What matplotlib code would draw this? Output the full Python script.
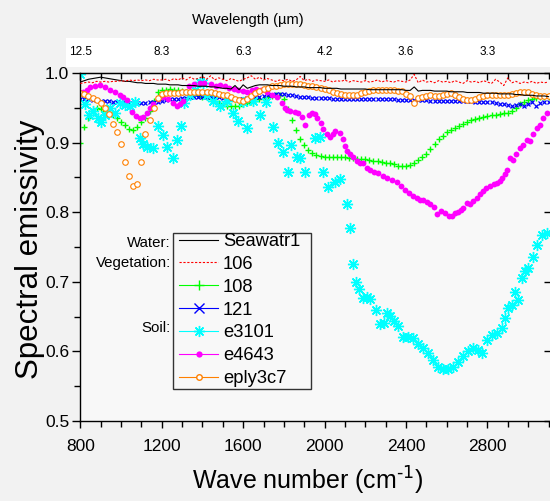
import numpy as np
import matplotlib
matplotlib.use('Agg')
import matplotlib.pyplot as plt
from matplotlib.lines import Line2D
from matplotlib.patches import Rectangle
from matplotlib.ticker import MultipleLocator

plt.rcParams['font.family'] = ['Liberation Sans', 'DejaVu Sans']
plt.rcParams['mathtext.default'] = 'regular'

# wave number grid (cm-1) for the densely sampled spectra
wn = np.arange(800, 3101, 20)

seawatr1 = [
    0.987, 0.989, 0.991, 0.992, 0.993, 0.994, 0.993, 0.992, 0.991, 0.990,
    0.989, 0.988, 0.988, 0.987, 0.986, 0.986, 0.985, 0.985, 0.985, 0.984,
    0.984, 0.984, 0.983, 0.983, 0.983, 0.982, 0.982, 0.982, 0.982, 0.981,
    0.981, 0.981, 0.980, 0.980, 0.979, 0.978, 0.978, 0.977, 0.982, 0.976,
    0.983, 0.978, 0.980, 0.982, 0.983, 0.983, 0.983, 0.982, 0.982, 0.982,
    0.981, 0.981, 0.981, 0.980, 0.980, 0.980, 0.979, 0.979, 0.979, 0.979,
    0.978, 0.978, 0.978, 0.978, 0.977, 0.977, 0.977, 0.977, 0.977, 0.977,
    0.977, 0.976, 0.976, 0.976, 0.976, 0.976, 0.976, 0.976, 0.976, 0.976,
    0.975, 0.975, 0.980, 0.974, 0.975, 0.975, 0.975, 0.974, 0.974, 0.974,
    0.974, 0.973, 0.973, 0.973, 0.973, 0.972, 0.972, 0.972, 0.972, 0.971,
    0.971, 0.971, 0.971, 0.970, 0.970, 0.970, 0.970, 0.969, 0.969, 0.968,
    0.968, 0.968, 0.967, 0.967, 0.967, 0.966]

veg106 = [
    0.985, 0.986, 0.987, 0.986, 0.988, 0.987, 0.988, 0.987, 0.988, 0.988,
    0.989, 0.988, 0.990, 0.989, 0.990, 0.989, 0.990, 0.989, 0.991, 0.990,
    0.990, 0.991, 0.989, 0.992, 0.990, 0.993, 0.990, 0.994, 0.991, 0.992,
    0.995, 0.991, 0.996, 0.990, 0.993, 0.991, 0.989, 0.992, 0.990, 0.988,
    0.991, 0.993, 0.996, 0.991, 0.994, 0.990, 0.992, 0.990, 0.988, 0.990,
    0.989, 0.991, 0.988, 0.990, 0.995, 0.989, 0.991, 0.988, 0.990, 0.989,
    0.988, 0.990, 0.987, 0.989, 0.988, 0.990, 0.987, 0.989, 0.988, 0.987,
    0.989, 0.987, 0.988, 0.990, 0.987, 0.989, 0.988, 0.987, 0.989, 0.988,
    0.987, 0.990, 0.998, 0.986, 0.990, 0.987, 0.988, 0.986, 0.989, 0.987,
    0.988, 0.986, 0.989, 0.987, 0.985, 0.989, 0.987, 0.988, 0.986, 0.989,
    0.987, 0.985, 0.991, 0.987, 0.982, 0.993, 0.986, 0.988, 0.985, 0.987,
    0.986, 0.988, 0.985, 0.987, 0.986, 0.987]

veg108 = [
    0.900, 0.922, 0.935, 0.945, 0.950, 0.948, 0.946, 0.944, 0.940, 0.936,
    0.930, 0.926, 0.920, 0.918, 0.922, 0.930, 0.935, 0.945, 0.960, 0.972,
    0.975, 0.976, 0.977, 0.976, 0.975, 0.974, 0.973, 0.972, 0.970, 0.968,
    0.966, 0.965, 0.963, 0.960, 0.957, 0.955, 0.953, 0.952, 0.952, 0.953,
    0.955, 0.957, 0.958, 0.960, 0.962, 0.963, 0.965, 0.967, 0.968, 0.968,
    0.962, 0.948, 0.933, 0.918, 0.905, 0.896, 0.889, 0.885, 0.882, 0.881,
    0.880, 0.880, 0.880, 0.879, 0.879, 0.879, 0.878, 0.878, 0.877, 0.877,
    0.876, 0.875, 0.874, 0.873, 0.872, 0.871, 0.870, 0.869, 0.867, 0.866,
    0.867, 0.868, 0.871, 0.875, 0.879, 0.884, 0.891, 0.898, 0.905, 0.910,
    0.915, 0.918, 0.921, 0.924, 0.927, 0.930, 0.932, 0.934, 0.936, 0.937,
    0.938, 0.939, 0.940, 0.941, 0.942, 0.943, 0.946, 0.950, 0.955, 0.958,
    0.961, 0.963, 0.964, 0.965, 0.965, 0.966]

veg121 = [
    0.963, 0.962, 0.962, 0.961, 0.961, 0.960, 0.960, 0.960, 0.959, 0.959,
    0.958, 0.958, 0.957, 0.957, 0.957, 0.957, 0.957, 0.958, 0.958, 0.959,
    0.960, 0.961, 0.962, 0.963, 0.963, 0.964, 0.964, 0.965, 0.965, 0.965,
    0.966, 0.966, 0.966, 0.965, 0.965, 0.964, 0.964, 0.963, 0.963, 0.963,
    0.963, 0.964, 0.964, 0.965, 0.966, 0.967, 0.968, 0.969, 0.970, 0.970,
    0.970, 0.969, 0.968, 0.967, 0.966, 0.965, 0.965, 0.964, 0.964, 0.964,
    0.964, 0.964, 0.963, 0.963, 0.963, 0.963, 0.963, 0.963, 0.963, 0.962,
    0.962, 0.962, 0.962, 0.962, 0.962, 0.962, 0.962, 0.962, 0.961, 0.961,
    0.961, 0.961, 0.961, 0.961, 0.961, 0.961, 0.960, 0.960, 0.960, 0.960,
    0.960, 0.960, 0.960, 0.960, 0.960, 0.960, 0.960, 0.959, 0.959, 0.959,
    0.959, 0.958, 0.957, 0.956, 0.955, 0.954, 0.953, 0.954, 0.955, 0.953,
    0.956, 0.958, 0.953, 0.957, 0.958, 0.959]

eply3c7 = [
    0.971, 0.970, 0.967, 0.964, 0.961, 0.957, 0.950, 0.941, 0.927, 0.915,
    0.898, 0.872, 0.852, 0.837, 0.840, 0.872, 0.912, 0.932, 0.950, 0.964,
    0.970, 0.971, 0.971, 0.971, 0.971, 0.972, 0.972, 0.972, 0.973, 0.973,
    0.973, 0.972, 0.972, 0.971, 0.970, 0.969, 0.968, 0.966, 0.963, 0.961,
    0.960, 0.963, 0.967, 0.971, 0.974, 0.977, 0.979, 0.981, 0.982, 0.983,
    0.984, 0.984, 0.984, 0.984, 0.984, 0.983, 0.982, 0.981, 0.980, 0.979,
    0.977, 0.975, 0.973, 0.971, 0.970, 0.969, 0.968, 0.968, 0.969, 0.971,
    0.973, 0.974, 0.975, 0.976, 0.976, 0.976, 0.975, 0.975, 0.974, 0.974,
    0.970, 0.967, 0.957, 0.964, 0.966, 0.967, 0.968, 0.967, 0.967, 0.968,
    0.970, 0.971, 0.969, 0.966, 0.963, 0.961, 0.961, 0.963, 0.966, 0.967,
    0.968, 0.968, 0.968, 0.968, 0.968, 0.969, 0.970, 0.971, 0.972, 0.973,
    0.973, 0.970, 0.968, 0.967, 0.967, 0.967]

# soil e4643 (sparser sampling)
wn_e4643 = [800, 815, 832, 850, 870, 897, 920, 945, 970, 994, 1010, 1028, 1052, 1072,
            1093, 1110, 1127, 1142, 1157, 1180, 1206, 1230, 1255, 1274, 1290, 1304,
            1318, 1335, 1360, 1388, 1410, 1440, 1465, 1486, 1510, 1530, 1555, 1575,
            1600, 1620, 1645, 1665, 1690, 1715, 1740, 1765, 1790, 1805, 1815, 1830,
            1854, 1870, 1889, 1903, 1925, 1940, 1953, 1965, 1980, 1992, 2010, 2026,
            2040, 2051, 2075, 2090, 2100, 2109, 2124, 2141, 2158, 2175, 2190, 2207,
            2223, 2245, 2264, 2285, 2305, 2330, 2354, 2375, 2395, 2415, 2436, 2455,
            2469, 2485, 2502, 2520, 2535, 2551, 2570, 2590, 2610, 2626, 2640, 2655,
            2668, 2680, 2699, 2715, 2730, 2748, 2765, 2778, 2795, 2812, 2830, 2846,
            2860, 2871, 2885, 2895, 2910, 2925, 2940, 2960, 2975, 2994, 3010, 3025,
            3043, 3060, 3075, 3092]
e4643 = [0.971, 0.973, 0.976, 0.980, 0.982, 0.983, 0.980, 0.976, 0.972, 0.968, 0.965,
         0.961, 0.944, 0.938, 0.935, 0.937, 0.942, 0.949, 0.956, 0.962, 0.966, 0.962,
         0.957, 0.952, 0.955, 0.960, 0.972, 0.981, 0.984, 0.985, 0.985, 0.984, 0.982,
         0.983, 0.981, 0.979, 0.977, 0.975, 0.974, 0.973, 0.975, 0.977, 0.975, 0.972,
         0.969, 0.966, 0.957, 0.950, 0.947, 0.945, 0.944, 0.942, 0.937, 0.925, 0.940,
         0.942, 0.941, 0.935, 0.928, 0.920, 0.912, 0.908, 0.912, 0.916, 0.914, 0.905,
         0.895, 0.888, 0.884, 0.879, 0.873, 0.871, 0.870, 0.864, 0.860, 0.858, 0.856,
         0.852, 0.849, 0.846, 0.844, 0.838, 0.832, 0.827, 0.823, 0.820, 0.818, 0.817,
         0.815, 0.812, 0.808, 0.798, 0.802, 0.799, 0.795, 0.794, 0.799, 0.801, 0.803,
         0.806, 0.813, 0.812, 0.816, 0.821, 0.826, 0.831, 0.835, 0.838, 0.840, 0.842,
         0.845, 0.849, 0.855, 0.860, 0.878, 0.875, 0.884, 0.892, 0.897, 0.904, 0.902,
         0.912, 0.921, 0.925, 0.935, 0.943]

# soil e3101 (sparse sampling)
wn_e3101 = [800, 825, 845, 862, 885, 903, 920, 945, 970, 996, 1020, 1045, 1069, 1093,
            1110, 1127, 1157, 1182, 1206, 1225, 1255, 1274, 1295, 1310, 1340, 1365,
            1388, 1404, 1422, 1452, 1486, 1520, 1550, 1575, 1600, 1619, 1650, 1683,
            1710, 1747, 1771, 1796, 1820, 1835, 1864, 1879, 1903, 1953, 1977, 1992,
            2017, 2051, 2075, 2109, 2124, 2139, 2155, 2171, 2189, 2210, 2223, 2253,
            2272, 2290, 2305, 2321, 2341, 2361, 2386, 2410, 2435, 2459, 2484, 2508,
            2533, 2557, 2582, 2606, 2630, 2655, 2680, 2704, 2729, 2753, 2772, 2797,
            2821, 2846, 2871, 2886, 2900, 2920, 2935, 2950, 2969, 2984, 2999, 3023,
            3043, 3067, 3092]
e3101 = [0.998, 0.955, 0.940, 0.945, 0.935, 0.930, 0.940, 0.950, 0.942, 0.957, 0.954,
         0.952, 0.958, 0.907, 0.898, 0.894, 0.892, 0.924, 0.911, 0.894, 0.878, 0.904,
         0.924, 0.957, 0.968, 0.975, 0.987, 0.985, 0.968, 0.960, 0.952, 0.960, 0.943,
         0.931, 0.958, 0.921, 0.960, 0.940, 0.958, 0.922, 0.900, 0.886, 0.858, 0.896,
         0.880, 0.878, 0.858, 0.907, 0.908, 0.858, 0.836, 0.844, 0.848, 0.812, 0.777,
         0.726, 0.699, 0.689, 0.677, 0.678, 0.676, 0.660, 0.640, 0.641, 0.655, 0.651,
         0.643, 0.637, 0.621, 0.620, 0.619, 0.610, 0.605, 0.598, 0.588, 0.578, 0.574,
         0.574, 0.578, 0.585, 0.593, 0.600, 0.605, 0.602, 0.598, 0.617, 0.624, 0.627,
         0.634, 0.648, 0.663, 0.667, 0.686, 0.674, 0.706, 0.715, 0.720, 0.736, 0.753,
         0.767, 0.770]

top_pos = [800, 1200, 1600, 2000, 2400, 2800]
top_labels = ['12.5', '8.3', '6.3', '4.2', '3.6', '3.3']

W, H = 550, 501
fig = plt.figure(figsize=(5.5, 5.01), dpi=100, facecolor='#f2f2f2')
fig.add_artist(Rectangle((66 / W, 1 - 67 / H), 484 / W, 29 / H,
                         transform=fig.transFigure, facecolor='white',
                         edgecolor='none', zorder=-1))
ax = fig.add_axes([80.3 / W, 1 - 421 / H, 470.5 / W, 348 / H])
ax.set_facecolor('#f8f8f8')

c_green, c_blue, c_cyan = '#00ff00', '#0000ff', '#00ffff'
c_mag, c_orange = '#ff00ff', '#ff8000'
star = (8, 2, 0)

ax.plot(wn, seawatr1, color='black', lw=0.8, zorder=3)
ax.plot(wn, veg106, color='red', lw=0.8, ls=(0, (2, 1.5)), zorder=3)
ax.plot(wn, veg108, ls='none', marker='+', color=c_green, ms=5, mew=1, zorder=2)
ax.plot(wn, veg121, ls='none', marker='x', color=c_blue, ms=3.5, mew=0.9, zorder=2)
ax.plot(wn_e3101, e3101, ls='none', marker=star, color=c_cyan, ms=8, mew=1, zorder=2)
ax.plot(wn_e4643, e4643, ls='none', marker='o', color=c_mag, ms=4.2, mew=0, zorder=2)
ax.plot(wn, eply3c7, ls='none', marker='o', mfc='white', mec=c_orange, ms=4,
        mew=0.8, zorder=2)

ax.set_xlim(800, 3111)
ax.set_ylim(0.5, 1.0)
ax.xaxis.set_major_locator(MultipleLocator(400))
ax.xaxis.set_minor_locator(MultipleLocator(100))
ax.yaxis.set_major_locator(MultipleLocator(0.1))
ax.yaxis.set_minor_locator(MultipleLocator(0.05))
ax.yaxis.set_major_formatter(plt.FormatStrFormatter('%.1f'))
ax.tick_params(axis='x', which='major', direction='out', length=5, width=1,
               labelsize=12.5, pad=8)
ax.tick_params(axis='x', which='minor', direction='out', length=4, width=1)
ax.tick_params(axis='y', which='major', direction='out', length=6, width=1,
               labelsize=12.5, pad=2)
ax.tick_params(axis='y', which='minor', direction='out', length=4, width=1)
for s in ax.spines.values():
    s.set_linewidth(1)

top = ax.secondary_xaxis('top')
top.set_xticks(top_pos, top_labels)
top.xaxis.set_minor_locator(MultipleLocator(100))
top.tick_params(which='major', direction='in', length=5, width=1, labelsize=8.5, pad=11)
top.tick_params(which='minor', direction='in', length=4, width=1)

right = ax.secondary_yaxis('right')
right.yaxis.set_major_locator(MultipleLocator(0.1))
right.tick_params(direction='in', length=5, width=1, labelright=False)

fig.text(30 / W, 1 - 249 / H, 'Spectral emissivity', rotation=90,
         ha='center', va='center', fontsize=22.5)
fig.text(308 / W, 1 - 490 / H, 'Wave number (cm$^{\\text{-1}}$)', ha='center',
         va='baseline', fontsize=18)
fig.text(248 / W, 1 - 20 / H, 'Wavelength (\u00b5m)', ha='center',
         va='center', fontsize=10.5)

# legend frame drawn by hand so its size matches
ax.add_patch(Rectangle((173.3 / W, 1 - 389 / H), 137.7 / W, 156.3 / H,
                       transform=fig.transFigure, facecolor='#f8f8f8',
                       edgecolor='#333333', lw=1, zorder=4.5, clip_on=False))

handles = [
    Line2D([], [], color='black', lw=0.8),
    Line2D([], [], color='red', lw=0.8, ls=(0, (2, 1.5))),
    Line2D([], [], color=c_green, lw=0.8, marker='+', ms=7, mew=1),
    Line2D([], [], color=c_blue, lw=0.8, marker='x', ms=7, mew=1),
    Line2D([], [], color=c_cyan, lw=0.8, marker=star, ms=8, mew=1),
    Line2D([], [], color=c_mag, lw=0.8, marker='o', ms=4.5, mew=0),
    Line2D([], [], color=c_orange, lw=0.8, marker='o', ms=4, mfc='white', mew=1),
]
labels = ['Seawatr1', '106', '108', '121', 'e3101', 'e4643', 'eply3c7']
leg = ax.legend(handles, labels, loc='upper left',
                bbox_to_anchor=(179 / W, 1 - 233 / H),
                bbox_transform=fig.transFigure, fontsize=13.2, frameon=False,
                handlelength=2.13, handletextpad=0.27, labelspacing=0.32,
                borderpad=0, borderaxespad=0)
leg.set_zorder(5)

for txt, ypx in [('Water:', 242.7), ('Vegetation:', 263.3), ('Soil:', 328.3)]:
    fig.text(171 / W, 1 - ypx / H, txt, ha='right', va='center', fontsize=10.8)

fig.savefig('out.png', dpi=100, facecolor=fig.get_facecolor())
